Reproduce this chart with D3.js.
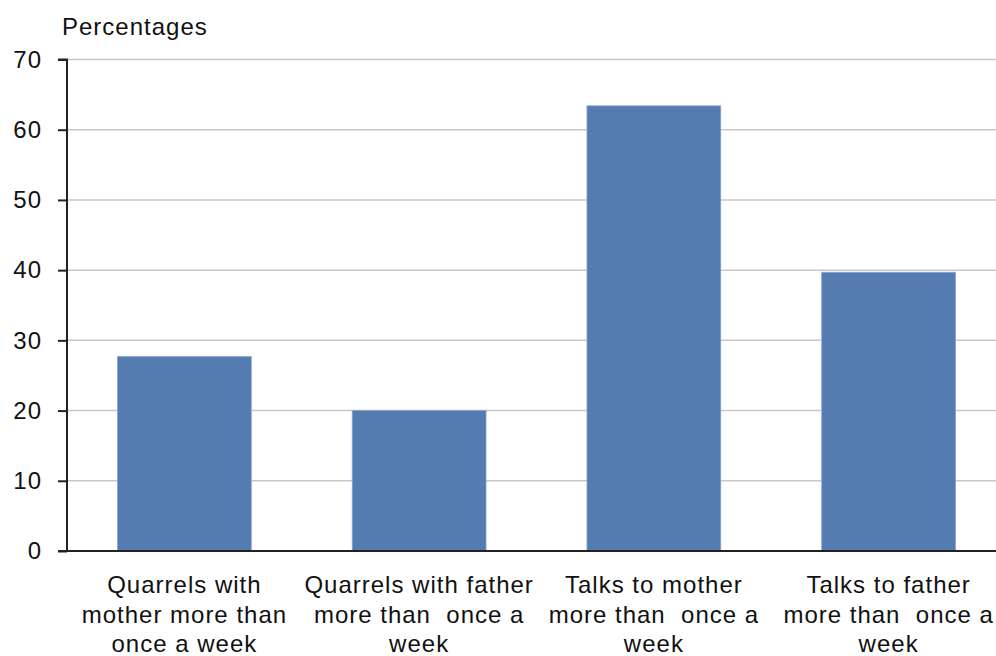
<!DOCTYPE html>
<html><head><meta charset="utf-8">
<script src="https://cdn.jsdelivr.net/npm/d3@7/dist/d3.min.js"></script>
<style>
body{margin:0;background:#fff;}
text{font-family:"Liberation Sans",Arial,sans-serif;font-size:24px;letter-spacing:1px;fill:#111;}
</style></head>
<body><svg id="c" width="996" height="656"></svg>
<script>
const categories = [
  ["Quarrels with","mother more than","once a week"],
  ["Quarrels with father","more than  once a","week"],
  ["Talks to mother","more than  once a","week"],
  ["Talks to father","more than  once a","week"]
];
const values = [27.7, 20.0, 63.4, 39.7];
const yTicks = [0,10,20,30,40,50,60,70];
const yTitle = "Percentages";

const svg = d3.select("#c");
const mLeft = 67, mRight = 1006, mTop = 59.5, mBottom = 551;
const ids = categories.map((d,i)=>i);
const x = d3.scaleBand().domain(ids).range([mLeft,mRight]).paddingInner(0.43).paddingOuter(0.215);
const y = d3.scaleLinear().domain([0,70]).range([mBottom,mTop]);

// gridlines
svg.append("g").selectAll("line").data(yTicks.filter(t=>t>0)).join("line")
  .attr("x1",mLeft).attr("x2",996).attr("y1",d=>y(d)).attr("y2",d=>y(d))
  .attr("stroke","#c8c8c8").attr("stroke-width",1.5);

// bars
svg.append("g").selectAll("rect").data(values).join("rect")
  .attr("x",(d,i)=>x(i)).attr("width",x.bandwidth())
  .attr("y",d=>y(d)).attr("height",d=>y(0)-y(d))
  .attr("fill","#557cb0").attr("stroke","#8aa5cc").attr("stroke-width",0.8);

// y axis
const ya = svg.append("g").attr("transform",`translate(${mLeft},0)`)
  .call(d3.axisLeft(y).tickValues(yTicks).tickSize(9).tickPadding(16).tickFormat(d3.format("d")));
ya.select(".domain").attr("stroke","#222").attr("stroke-width",2).attr("d",`M-9,${y(70)}H0V${y(0)}`);
ya.selectAll(".tick line").attr("stroke","#222").attr("stroke-width",2);
ya.selectAll(".tick text").attr("fill","#111").style("font-size","24px").style("font-family","'Liberation Sans',Arial,sans-serif");

// x axis baseline
svg.append("line").attr("x1",mLeft-9).attr("x2",996).attr("y1",y(0)).attr("y2",y(0))
  .attr("stroke","#222").attr("stroke-width",2);

// x labels
const xl = svg.append("g").selectAll("text").data(categories).join("text")
  .attr("text-anchor","middle").attr("xml:space","preserve").style("white-space","pre")
  .attr("transform",(d,i)=>`translate(${x(i)+x.bandwidth()/2},593)`);
xl.selectAll("tspan").data(d=>d).join("tspan")
  .attr("x",0).attr("y",(d,j)=>j*29.5).text(d=>d);

// title
svg.append("text").attr("x",62).attr("y",35).text(yTitle);
</script></body></html>
